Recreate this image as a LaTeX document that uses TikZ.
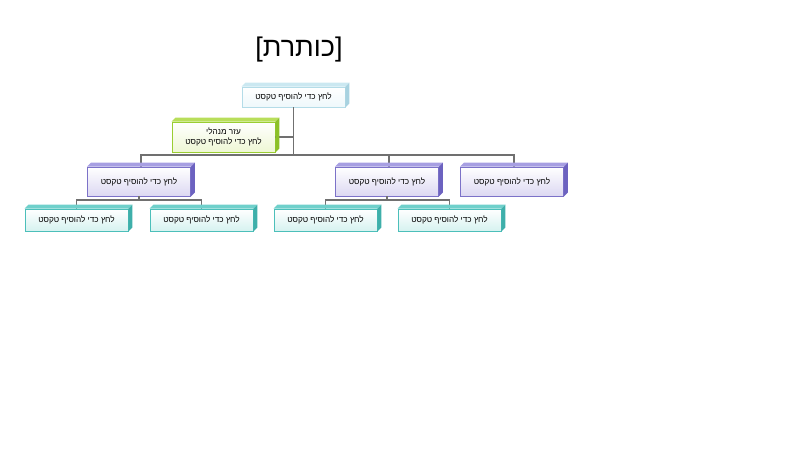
\documentclass[tikz,border=0pt]{standalone}
\usepackage{fontspec}
\setmainfont{Liberation Sans}
\newfontfamily\hebfont[Script=Hebrew]{Liberation Sans}
\TeXXeTstate=1
\definecolor{purpB}{HTML}{7C72C8}
\definecolor{purpT}{HTML}{A79FE2}
\definecolor{purpS}{HTML}{6C62C0}
\definecolor{purpF}{HTML}{DCD8F2}
\definecolor{tealB}{HTML}{4CBFBA}
\definecolor{tealT}{HTML}{6FD0CB}
\definecolor{tealS}{HTML}{3EAFAA}
\definecolor{tealF}{HTML}{D6F2F0}
\definecolor{grnB}{HTML}{9ACD32}
\definecolor{grnT}{HTML}{B8DE5A}
\definecolor{grnS}{HTML}{8CC028}
\definecolor{grnF}{HTML}{EEF7D4}
\definecolor{bluB}{HTML}{B4DCE8}
\definecolor{bluT}{HTML}{CBE8F1}
\definecolor{bluS}{HTML}{A8D2E0}
\definecolor{bluF}{HTML}{EEF8FB}
\definecolor{connC}{HTML}{707070}
\newcommand{\heb}[1]{{\hebfont\beginR #1\endR}}
\newcommand{\bevel}[2]{%
  \fill[#2T] (#1.north west) -- ++(4,-4) -- ([shift={(4,-4)}]#1.north east) -- (#1.north east) -- cycle;
  \fill[#2S] (#1.north east) -- ++(4,-4) -- ([shift={(4,-4)}]#1.south east) -- (#1.south east) -- cycle;}
\tikzset{
  orgbox/.style={draw=#1B, line width=0.8pt, rectangle, inner sep=0pt,
    minimum width=103pt, top color=white, bottom color=#1F,
    font=\hebfont\fontsize{8.2}{10}\selectfont, align=center},
  conn/.style={draw=connC, line width=1.6pt},
}
\begin{document}
\begin{tikzpicture}[x=1pt,y=-1pt]
\useasboundingbox (0,0) rectangle (796,450);
\node[font=\fontsize{27}{30}\selectfont] (title) at (299,50) {[\heb{כותרת}]};
\node[orgbox=blu, minimum height=20pt] (top) at (293.5,97) {\heb{לחץ כדי להוסיף טקסט}};
\node[orgbox=grn, minimum height=30pt] (asst) at (223.5,137) {\heb{עזר מנהלי}\\\heb{לחץ כדי להוסיף טקסט}};
\node[orgbox=purp, minimum height=29pt] (L) at (139,181.5) {\heb{לחץ כדי להוסיף טקסט}};
\node[orgbox=purp, minimum height=29pt] (M) at (387,181.5) {\heb{לחץ כדי להוסיף טקסט}};
\node[orgbox=purp, minimum height=29pt] (R) at (512,181.5) {\heb{לחץ כדי להוסיף טקסט}};
\node[orgbox=teal, minimum height=22pt] (LL) at (76.5,220) {\heb{לחץ כדי להוסיף טקסט}};
\node[orgbox=teal, minimum height=22pt] (LR) at (201.5,220) {\heb{לחץ כדי להוסיף טקסט}};
\node[orgbox=teal, minimum height=22pt] (ML) at (325.5,220) {\heb{לחץ כדי להוסיף טקסט}};
\node[orgbox=teal, minimum height=22pt] (MR) at (449.5,220) {\heb{לחץ כדי להוסיף טקסט}};
\coordinate (j1) at (293.5,155);
\coordinate (j2) at (139,200);
\coordinate (j3) at (387,200);
\draw[conn] (top.south) -- (j1);
\draw[conn] (asst.east) -- (asst.east -| top.south);
\draw[conn] ([xshift=2pt]L.north) |- (j1) -| ([xshift=2pt]R.north);
\draw[conn] ([xshift=2pt]M.north) -- ([xshift=2pt]M.north |- j1);
\draw[conn] (L.south) -- (j2);
\draw[conn] (LL.north) |- (j2) -| (LR.north);
\draw[conn] (M.south) -- (j3);
\draw[conn] (ML.north) |- (j3) -| (MR.north);
\bevel{top}{blu}
\bevel{asst}{grn}
\bevel{L}{purp}
\bevel{M}{purp}
\bevel{R}{purp}
\bevel{LL}{teal}
\bevel{LR}{teal}
\bevel{ML}{teal}
\bevel{MR}{teal}
\end{tikzpicture}
\end{document}
